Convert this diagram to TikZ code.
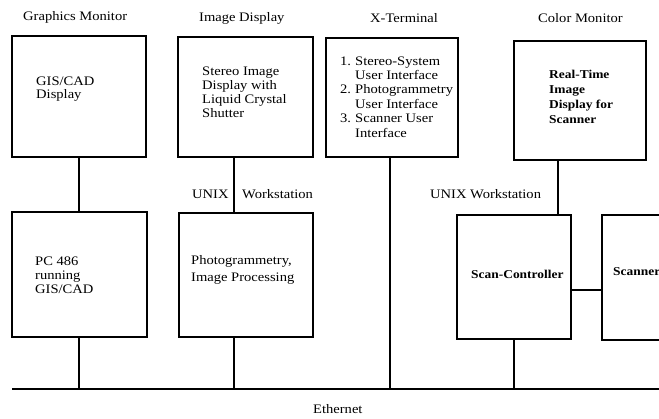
\documentclass[tikz,border=0pt]{standalone}
\usepackage{fontspec}
\setmainfont{Liberation Serif}[FakeStretch=1.12]
\begin{document}
\begin{tikzpicture}[x=1pt,y=-1pt,
  box/.style={draw,line width=1.1pt,inner sep=0pt},
  wire/.style={line width=1.1pt},
  txt/.style={inner sep=0pt,anchor=base west,align=left,font=\fontsize{13}{#1}\selectfont},
  txt/.default=14,
  btxt/.style={inner sep=0pt,anchor=base west,align=left,font=\fontsize{12}{#1}\selectfont\bfseries},
  btxt/.default=15]
\useasboundingbox (0,0) rectangle (659,418);
\clip (0,0) rectangle (659,418);
% boxes
\node[box,minimum width=134,minimum height=121] (gis) at (79,96.5) {};
\node[box,minimum width=135,minimum height=120] (stereo) at (245.5,97) {};
\node[box,minimum width=132,minimum height=119] (xterm) at (392,97.5) {};
\node[box,minimum width=132,minimum height=119] (color) at (580,100.5) {};
\node[box,minimum width=135,minimum height=125] (pc) at (79.5,274.5) {};
\node[box,minimum width=134,minimum height=124] (photo) at (246,275) {};
\node[box,minimum width=114,minimum height=124] (scan) at (514,277) {};
\node[box,minimum width=120,minimum height=125] (scanner) at (662,277.5) {};
% ethernet
\coordinate (ethL) at (12,389);
\coordinate (ethR) at (659,389);
\draw[wire] (ethL) -- (ethR);
% connectors
\draw[wire] (gis.south) -- (gis.south |- pc.north);
\draw[wire] ([xshift=-11.5pt]stereo.south) -- ([xshift=-11.5pt]stereo.south |- photo.north);
\draw[wire] ([xshift=-22pt]color.south) -- ([xshift=-22pt]color.south |- scan.north);
\draw[wire] ([yshift=-13pt]scan.east) -- ([yshift=-13pt]scan.east -| scanner.west);
\draw[wire] ([xshift=-0.5pt]pc.south) -- ([xshift=-0.5pt]pc.south |- ethL);
\draw[wire] ([xshift=-12pt]photo.south) -- ([xshift=-12pt]photo.south |- ethL);
\draw[wire] ([xshift=-2pt]xterm.south) -- ([xshift=-2pt]xterm.south |- ethL);
\draw[wire] (scan.south) -- (scan.south |- ethL);
% headings
\node[txt] (h1) at (23,20) {Graphics Monitor};
\node[txt] (h2) at (199,21) {Image Display};
\node[txt] (h3) at (370,22) {X-Terminal};
\node[txt] (h4) at (538,22) {Color Monitor};
\node[txt] (u1) at (192,198) {UNIX};
\node[txt] (u2) at (242,198) {Workstation};
\node[txt] (u3) at (430,198) {UNIX Workstation};
\node[txt] (eth) at (313,413) {Ethernet};
% box texts (anchored at the baseline of the last line)
\node[txt=13] (t1) at (36,98) {GIS/CAD\\Display};
\node[txt=14] (t2) at (202,117) {Stereo Image\\Display with\\Liquid Crystal\\Shutter};
\node[txt=14.4] (t3) at (340,137) {\makebox[15pt][l]{1.}Stereo-System\\\hspace*{15pt}User Interface\\\makebox[15pt][l]{2.}Photogrammetry\\\hspace*{15pt}User Interface\\\makebox[15pt][l]{3.}Scanner User\\\hspace*{15pt}Interface};
\node[btxt=15] (t4) at (549,123) {Real-Time\\Image\\Display for\\Scanner};
\node[txt=14] (t5) at (35,293) {PC 486\\running\\GIS/CAD};
\node[txt=17] (t6) at (191,281) {Photogrammetry,\\Image Processing};
\node[btxt] (t7) at (471,278) {Scan-Controller};
\node[btxt] (t8) at (613,275) {Scanner};
\end{tikzpicture}
\end{document}
